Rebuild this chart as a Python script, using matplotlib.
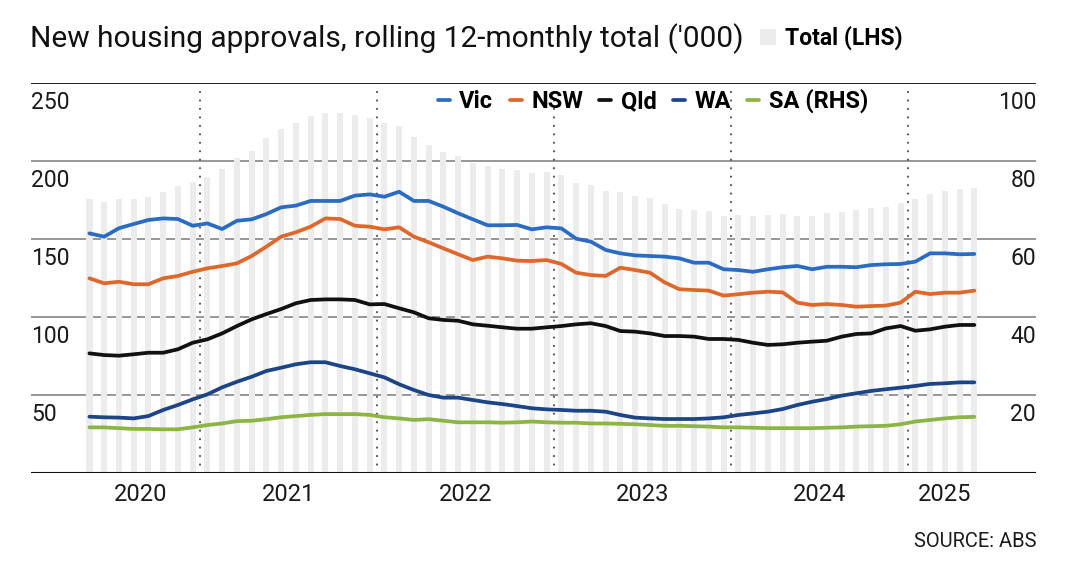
import numpy as np
import pandas as pd
import matplotlib.pyplot as plt
import matplotlib.transforms as mtransforms

plt.rcParams['font.family'] = ['Roboto', 'DejaVu Sans']

# monthly, rolling 12-month totals ('000), May 2020 - May 2025
months = pd.period_range('2020-05', '2025-05', freq='M')

total = [175.4, 173.5, 175.4, 175.9, 177.1, 180.3, 184.2, 186.7, 190, 194.7, 201.7, 206.6,
         214.7, 220.5, 224.4, 228.8, 230.8, 230.8, 229.5, 227.6, 224.4, 222.4, 215.4, 210,
         206, 203, 199, 196.8, 194.9, 194.2, 192, 193, 191, 186, 184.6, 181, 180, 177.6,
         176, 172.4, 169, 168.6, 168, 164.7, 165.4, 164.7, 165.4, 165.8, 165, 164.7, 166.9,
         167.5, 168.6, 169.7, 170.7, 172.9, 175.4, 178.6, 181, 181.8, 182.9]
vic = [153.6, 151.5, 156.9, 159.6, 162.2, 163.2, 162.8, 158.5, 160, 156.4, 161.7, 162.6,
       166, 170.3, 171.4, 174.4, 174.4, 174.4, 177.8, 178.6, 177.1, 180.3, 174.4, 174.4,
       170.7, 166.5, 162.6, 158.8, 158.8, 159, 156.2, 157.5, 156.8, 150.2, 148.3, 143,
       140.8, 139.5, 139.1, 138.7, 137.6, 134.8, 134.8, 130.6, 130.1, 129, 130.6, 131.9,
       132.7, 130.6, 132.2, 132.2, 131.9, 133.3, 133.8, 134, 135.5, 140.8, 140.8, 140.2, 140.4]
nsw = [124.8, 121.6, 122.6, 121, 121, 124.8, 126.3, 129, 131.2, 132.7, 134.4, 139.1,
       145.1, 151.5, 154.3, 157.9, 163.2, 162.8, 158.5, 157.9, 156.2, 157.5, 151.5, 147.9,
       144, 140.2, 136.5, 138.7, 137.6, 136.1, 135.9, 136.5, 134, 128.4, 126.9, 126.3,
       131.6, 130.1, 128.4, 122.2, 117.8, 117.3, 116.9, 113.7, 114.6, 115.6, 116.2, 115.8,
       109.2, 107.7, 108.3, 107.7, 106.6, 107, 107.3, 109.2, 116.2, 114.7, 115.6, 115.6, 116.9]
qld = [76.7, 75.6, 75.2, 76.1, 77.1, 77.1, 79.3, 83.5, 85.7, 89.5, 94.2, 98.5,
       101.9, 105.1, 108.8, 110.9, 111.3, 111.3, 110.9, 108.1, 108.3, 105.6, 103, 99.2,
       98.1, 97.6, 95.3, 94.4, 93.4, 92.5, 92.5, 93.4, 94.2, 95.3, 96, 94.2,
       91, 90.6, 89.5, 87.8, 87.8, 87.4, 85.9, 85.9, 85.3, 83.5, 82.1, 82.5,
       83.5, 84.2, 84.8, 87.4, 89.1, 89.5, 92.7, 94.2, 91.2, 92.1, 93.8, 94.9, 94.9]
wa = [36.1, 35.7, 35.5, 35, 36.5, 40.4, 43.6, 47.2, 50.4, 54.9, 58.5, 61.7,
      65.4, 67.5, 69.7, 71, 71, 68.6, 66.5, 63.9, 61.3, 56.9, 53.2, 50,
      48.3, 48.3, 46.8, 45.3, 44.2, 42.9, 41.5, 40.8, 40.4, 39.9, 39.9, 39.3,
      37.2, 35.5, 35, 34.6, 34.6, 34.6, 35, 35.7, 37.2, 38.2, 39.3, 41,
      43.6, 45.7, 47.4, 49.6, 51.1, 52.6, 53.7, 54.7, 55.8, 57.1, 57.5, 58.1, 58.1]
sa = [11.7, 11.7, 11.5, 11.3, 11.3, 11.2, 11.2, 11.7, 12.3, 12.7, 13.3, 13.4,
      13.8, 14.3, 14.6, 14.9, 15.1, 15.1, 15.1, 14.9, 14.3, 14, 13.6, 13.8,
      13.4, 13, 13, 13, 12.9, 13, 13.2, 13, 12.9, 12.9, 12.7, 12.7,
      12.6, 12.5, 12.3, 12.1, 12.1, 12, 11.9, 11.7, 11.7, 11.6, 11.5, 11.5,
      11.5, 11.5, 11.6, 11.7, 11.9, 12, 12.1, 12.5, 13.2, 13.6, 14, 14.3, 14.4]

left_ticks = [50, 100, 150, 200, 250]
right_ticks = [20, 40, 60, 80, 100]

x = np.arange(len(months))
years = np.array([m.year for m in months])
year_list = sorted(set(years))
year_pos = [x[years == y].mean() for y in year_list]
year_breaks = x[[m.month == 1 for m in months]] - 0.5

fig = plt.figure(figsize=(10.8, 5.78), dpi=100)
ax = fig.add_axes([31/1080, 105/578, 1005/1080, 390/578])
ax.set_xlim(-3.96, 64.18)
ax.set_ylim(0, 250)
for s in ax.spines.values():
    s.set_visible(False)
ax.set_yticks([])

# grid behind bars
for v in left_ticks[:-1]:
    ax.axhline(v, color='#7a7a7a', lw=1.1, zorder=0.5)
ax.axhline(250, color='#222222', lw=1.4, zorder=0.5)
ax.axhline(0, color='#111111', lw=1.5, zorder=4)

bars = ax.bar(x, total, width=0.42, color='#ececec', zorder=1, label='Total (LHS)')

ax.vlines(year_breaks, 0, 245, color='#555555', lw=1.6,
          linestyles=[(0, (0.01, 3.8))], capstyle='round', zorder=2)

lw = 2.7
l1, = ax.plot(x, vic, color='#2a6cc4', lw=lw, solid_capstyle='round', zorder=3, label='Vic')
l2, = ax.plot(x, nsw, color='#e0672a', lw=lw, solid_capstyle='round', zorder=3, label='NSW')
l3, = ax.plot(x, qld, color='#111111', lw=lw, solid_capstyle='round', zorder=3, label='Qld')
l4, = ax.plot(x, wa, color='#1c4587', lw=lw, solid_capstyle='round', zorder=3, label='WA')

ax2 = ax.twinx()
ax2.set_ylim(0, 100)
for s in ax2.spines.values():
    s.set_visible(False)
ax2.set_yticks([])
l5, = ax2.plot(x, sa, color='#8cb543', lw=lw, solid_capstyle='round', zorder=3, label='SA (RHS)')

ax.set_xticks(year_pos, [str(y) for y in year_list])
ax.tick_params(axis='x', length=0, pad=7, labelsize=17, labelcolor='#1a1a1a')

# y labels sit under each gridline
tl = mtransforms.offset_copy(mtransforms.blended_transform_factory(ax.transAxes, ax.transData),
                             fig=fig, x=0, y=-26, units='dots')
for v in left_ticks:
    ax.text(0, v, str(v), transform=tl, ha='left', va='baseline',
            fontsize=16.5, color='#1a1a1a')
tr = mtransforms.offset_copy(mtransforms.blended_transform_factory(ax2.transAxes, ax2.transData),
                             fig=fig, x=0, y=-26, units='dots')
for v in right_ticks:
    ax2.text(1, v, str(v), transform=tr, ha='right', va='baseline',
             fontsize=16.5, color='#1a1a1a')

fig.text(30/1080, 1 - 47/578, "New housing approvals, rolling 12-monthly total ('000)",
         fontsize=21.5, color='#111111', va='baseline')

fig.legend(handles=[bars], loc='center left', bbox_to_anchor=(760/1080, 1 - 38/578),
           frameon=False, handlelength=0.7, handleheight=0.7,
           handletextpad=0.4, borderpad=0, borderaxespad=0,
           prop={'weight': 'bold', 'size': 16.5})

fig.legend(handles=[l1, l2, l3, l4, l5], loc='center left', ncol=5,
           bbox_to_anchor=(438/1080, 1 - 101/578), frameon=False,
           handlelength=0.5, handletextpad=0.4, columnspacing=0.7,
           borderpad=0, borderaxespad=0, prop={'weight': 'bold', 'size': 17})

fig.text(1036/1080, 1 - 547/578, 'SOURCE: ABS', ha='right', va='baseline',
         fontsize=14.5, color='#1a1a1a')

fig.savefig('out.png', dpi=100)
